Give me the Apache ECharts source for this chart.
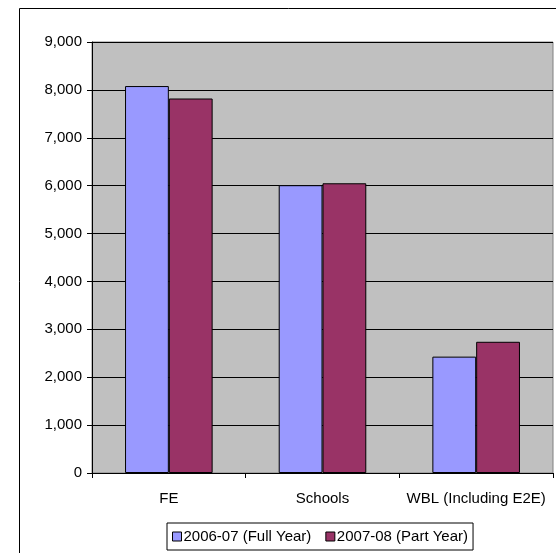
<!DOCTYPE html>
<html>
<head>
<meta charset="utf-8">
<script src="https://cdn.jsdelivr.net/npm/echarts@6/dist/echarts.min.js"></script>
<style>
  html, body { margin: 0; padding: 0; background: #fff; }
  #chart { width: 556px; height: 553px; }
</style>
</head>
<body>
<div id="chart"></div>
<script>
// data
const categories = ['FE', 'Schools', 'WBL (Including E2E)'];
const fullYear = [8080, 6010, 2430];
const partYear = [7820, 6050, 2740];
const seriesNames = ['2006-07 (Full Year)', '2007-08 (Part Year)'];

const chart = echarts.init(document.getElementById('chart'));

chart.setOption({
  animation: false,
  textStyle: { fontFamily: 'Liberation Sans, Arial, sans-serif' },
  grid: {
    left: 92, top: 42, right: 3, bottom: 80,
    show: true, backgroundColor: '#c0c0c0', borderColor: '#808080', borderWidth: 1
  },
  graphic: [{
    type: 'rect',
    shape: { x: 19.5, y: 8.5, width: 600, height: 600 },
    style: { fill: 'none', stroke: '#000', lineWidth: 1 },
    z: -10
  }],
  legend: {
    left: 167, top: 523,
    padding: [6, 5, 6, 5],
    itemGap: 14,
    itemWidth: 9, itemHeight: 9,
    borderColor: '#000', borderWidth: 1,
    icon: 'rect',
    itemStyle: { borderColor: '#000', borderWidth: 1 },
    textStyle: { fontSize: 15, color: '#000', padding: [0, 0, 0, -3] },
    data: seriesNames
  },
  xAxis: {
    type: 'category',
    data: categories,
    axisLine: { lineStyle: { color: '#000' } },
    axisTick: { show: true, length: 5, lineStyle: { color: '#000' } },
    axisLabel: { color: '#000', fontSize: 15, margin: 18, interval: 0, hideOverlap: false }
  },
  yAxis: {
    type: 'value',
    min: 0, max: 9000, interval: 1000,
    axisLine: { show: true, lineStyle: { color: '#000' } },
    axisTick: { show: true, length: 5, lineStyle: { color: '#000' } },
    axisLabel: {
      color: '#000', fontSize: 15, margin: 10,
      formatter: v => v.toLocaleString('en-US')
    },
    splitLine: { show: true, lineStyle: { color: '#000', width: 1 } }
  },
  series: [
    {
      name: seriesNames[0], type: 'bar', data: fullYear,
      barGap: '0%', barCategoryGap: '43%',
      itemStyle: { color: '#9999ff', borderColor: '#000', borderWidth: 1 }
    },
    {
      name: seriesNames[1], type: 'bar', data: partYear,
      itemStyle: { color: '#993366', borderColor: '#000', borderWidth: 1 }
    }
  ]
});
</script>
</body>
</html>
